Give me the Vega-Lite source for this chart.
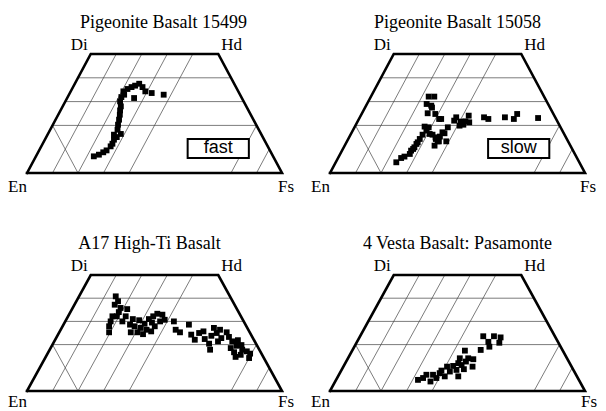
{
  "$schema": "https://vega.github.io/schema/vega-lite/v6.json",
  "background": "white",
  "padding": {"left": 8, "top": 14, "right": 2, "bottom": 0},
  "config": {
    "view": {"stroke": null},
    "title": {"font": "Liberation Serif", "fontSize": 18, "fontWeight": "normal", "color": "black", "frame": "group", "anchor": "middle", "offset": 0},
    "text": {"font": "Liberation Serif", "fontSize": 17, "color": "black"}
  },
  "datasets": {
    "grid": [
      {"x": 10, "y": 20, "x2": 90, "y2": 20},
      {"x": 15, "y": 30, "x2": 85, "y2": 30},
      {"x": 20, "y": 40, "x2": 80, "y2": 40},
      {"x": 10, "y": 0, "x2": 35, "y2": 50},
      {"x": 20, "y": 0, "x2": 45, "y2": 50},
      {"x": 30, "y": 0, "x2": 55, "y2": 50},
      {"x": 40, "y": 0, "x2": 65, "y2": 50},
      {"x": 80, "y": 0, "x2": 90, "y2": 20},
      {"x": 90, "y": 0, "x2": 95, "y2": 10},
      {"x": 10, "y": 20, "x2": 20, "y2": 0}
    ],
    "frame": [
      {"i": 0, "x": 0, "y": 0},
      {"i": 1, "x": 25, "y": 50},
      {"i": 2, "x": 75, "y": 50},
      {"i": 3, "x": 100, "y": 0},
      {"i": 4, "x": 0, "y": 0}
    ],
    "left": [{"label": "Di", "x": 25, "y": 50}],
    "right": [{"label": "Hd", "x": 75, "y": 50}],
    "en": [{"label": "En", "x": 0, "y": 0}],
    "fs": [{"label": "Fs", "x": 100, "y": 0}],
    "points": [
      {"panel": "A", "x": 26.2, "y": 7.0}, {"panel": "A", "x": 28.2, "y": 7.7}, {"panel": "A", "x": 29.9, "y": 8.7}, {"panel": "A", "x": 31.2, "y": 9.5},
      {"panel": "A", "x": 32.8, "y": 11.2}, {"panel": "A", "x": 33.5, "y": 12.3}, {"panel": "A", "x": 34.1, "y": 14.0}, {"panel": "A", "x": 35.2, "y": 15.1},
      {"panel": "A", "x": 36.8, "y": 16.4}, {"panel": "A", "x": 34.1, "y": 16.1}, {"panel": "A", "x": 35.5, "y": 18.2}, {"panel": "A", "x": 35.7, "y": 20.3},
      {"panel": "A", "x": 36.1, "y": 22.4}, {"panel": "A", "x": 36.4, "y": 24.5}, {"panel": "A", "x": 36.5, "y": 26.3}, {"panel": "A", "x": 36.8, "y": 28.0},
      {"panel": "A", "x": 36.5, "y": 30.1}, {"panel": "A", "x": 37.0, "y": 31.9}, {"panel": "A", "x": 37.8, "y": 34.3}, {"panel": "A", "x": 39.4, "y": 35.3},
      {"panel": "A", "x": 41.0, "y": 36.1}, {"panel": "A", "x": 42.4, "y": 36.7}, {"panel": "A", "x": 44.0, "y": 37.5}, {"panel": "A", "x": 45.3, "y": 36.1},
      {"panel": "A", "x": 46.4, "y": 34.3}, {"panel": "A", "x": 48.9, "y": 33.6}, {"panel": "A", "x": 42.0, "y": 31.5}, {"panel": "A", "x": 53.6, "y": 32.9},
      {"panel": "A", "x": 38.1, "y": 32.9},
      {"panel": "B", "x": 26.0, "y": 4.5}, {"panel": "B", "x": 27.9, "y": 6.3}, {"panel": "B", "x": 29.2, "y": 6.9}, {"panel": "B", "x": 31.3, "y": 8.0},
      {"panel": "B", "x": 31.8, "y": 9.4}, {"panel": "B", "x": 32.6, "y": 10.1}, {"panel": "B", "x": 33.1, "y": 10.8}, {"panel": "B", "x": 33.9, "y": 12.2},
      {"panel": "B", "x": 34.4, "y": 12.9}, {"panel": "B", "x": 35.2, "y": 14.3}, {"panel": "B", "x": 36.3, "y": 16.1}, {"panel": "B", "x": 37.8, "y": 17.8},
      {"panel": "B", "x": 38.7, "y": 19.2}, {"panel": "B", "x": 37.1, "y": 19.5}, {"panel": "B", "x": 39.1, "y": 16.4}, {"panel": "B", "x": 40.2, "y": 16.1},
      {"panel": "B", "x": 41.4, "y": 15.0}, {"panel": "B", "x": 41.5, "y": 14.3}, {"panel": "B", "x": 42.2, "y": 13.3}, {"panel": "B", "x": 41.0, "y": 11.5},
      {"panel": "B", "x": 42.7, "y": 13.3}, {"panel": "B", "x": 43.1, "y": 15.3}, {"panel": "B", "x": 45.6, "y": 13.3}, {"panel": "B", "x": 44.9, "y": 16.7},
      {"panel": "B", "x": 44.1, "y": 17.1}, {"panel": "B", "x": 46.2, "y": 19.2}, {"panel": "B", "x": 48.7, "y": 22.0}, {"panel": "B", "x": 49.5, "y": 23.4},
      {"panel": "B", "x": 50.8, "y": 19.9}, {"panel": "B", "x": 51.2, "y": 21.6}, {"panel": "B", "x": 52.3, "y": 20.3}, {"panel": "B", "x": 53.1, "y": 21.7},
      {"panel": "B", "x": 54.4, "y": 24.1}, {"panel": "B", "x": 54.6, "y": 21.3}, {"panel": "B", "x": 60.4, "y": 23.4}, {"panel": "B", "x": 62.1, "y": 22.7},
      {"panel": "B", "x": 68.6, "y": 23.4}, {"panel": "B", "x": 72.1, "y": 22.7}, {"panel": "B", "x": 73.4, "y": 24.8}, {"panel": "B", "x": 81.6, "y": 23.1},
      {"panel": "B", "x": 38.7, "y": 32.1}, {"panel": "B", "x": 40.9, "y": 32.1}, {"panel": "B", "x": 37.9, "y": 29.0}, {"panel": "B", "x": 39.7, "y": 28.3},
      {"panel": "B", "x": 40.0, "y": 27.5}, {"panel": "B", "x": 38.3, "y": 25.1}, {"panel": "B", "x": 41.3, "y": 24.8}, {"panel": "B", "x": 42.8, "y": 22.7},
      {"panel": "B", "x": 43.6, "y": 22.7},
      {"panel": "C", "x": 34.8, "y": 40.8}, {"panel": "C", "x": 35.7, "y": 38.7}, {"panel": "C", "x": 34.4, "y": 37.2}, {"panel": "C", "x": 36.7, "y": 35.8},
      {"panel": "C", "x": 39.3, "y": 35.3}, {"panel": "C", "x": 33.5, "y": 32.2}, {"panel": "C", "x": 35.2, "y": 32.2}, {"panel": "C", "x": 38.7, "y": 32.2},
      {"panel": "C", "x": 32.8, "y": 30.0}, {"panel": "C", "x": 32.2, "y": 27.9}, {"panel": "C", "x": 32.2, "y": 25.3}, {"panel": "C", "x": 37.4, "y": 30.0},
      {"panel": "C", "x": 40.4, "y": 28.6}, {"panel": "C", "x": 42.2, "y": 27.9}, {"panel": "C", "x": 40.7, "y": 25.3}, {"panel": "C", "x": 43.3, "y": 25.3},
      {"panel": "C", "x": 44.6, "y": 27.2}, {"panel": "C", "x": 46.1, "y": 29.0}, {"panel": "C", "x": 47.8, "y": 31.0}, {"panel": "C", "x": 49.5, "y": 32.2},
      {"panel": "C", "x": 51.1, "y": 33.3}, {"panel": "C", "x": 53.1, "y": 32.9}, {"panel": "C", "x": 52.2, "y": 30.0}, {"panel": "C", "x": 54.0, "y": 30.7},
      {"panel": "C", "x": 50.1, "y": 27.9}, {"panel": "C", "x": 48.7, "y": 25.7}, {"panel": "C", "x": 46.9, "y": 26.4}, {"panel": "C", "x": 57.6, "y": 30.0},
      {"panel": "C", "x": 58.3, "y": 26.4}, {"panel": "C", "x": 60.0, "y": 25.3}, {"panel": "C", "x": 63.5, "y": 28.6}, {"panel": "C", "x": 64.4, "y": 24.3},
      {"panel": "C", "x": 65.8, "y": 22.1}, {"panel": "C", "x": 67.5, "y": 25.0}, {"panel": "C", "x": 69.2, "y": 25.7}, {"panel": "C", "x": 69.7, "y": 22.4},
      {"panel": "C", "x": 71.4, "y": 20.4}, {"panel": "C", "x": 71.8, "y": 17.8}, {"panel": "C", "x": 72.3, "y": 23.8}, {"panel": "C", "x": 73.3, "y": 27.2},
      {"panel": "C", "x": 74.4, "y": 25.0}, {"panel": "C", "x": 75.7, "y": 26.4}, {"panel": "C", "x": 74.9, "y": 21.4}, {"panel": "C", "x": 76.2, "y": 22.8},
      {"panel": "C", "x": 78.3, "y": 25.3}, {"panel": "C", "x": 79.2, "y": 23.3}, {"panel": "C", "x": 80.5, "y": 21.4}, {"panel": "C", "x": 79.9, "y": 18.5},
      {"panel": "C", "x": 81.2, "y": 16.7}, {"panel": "C", "x": 82.2, "y": 19.5}, {"panel": "C", "x": 82.7, "y": 21.9}, {"panel": "C", "x": 84.1, "y": 19.8},
      {"panel": "C", "x": 84.4, "y": 17.8}, {"panel": "C", "x": 86.2, "y": 17.1}, {"panel": "C", "x": 87.5, "y": 16.1}, {"panel": "C", "x": 87.1, "y": 14.2},
      {"panel": "C", "x": 83.8, "y": 15.6}, {"panel": "C", "x": 81.8, "y": 14.7}, {"panel": "C", "x": 36.0, "y": 34.0}, {"panel": "C", "x": 41.5, "y": 31.0},
      {"panel": "C", "x": 44.0, "y": 30.5}, {"panel": "C", "x": 49.0, "y": 29.5}, {"panel": "C", "x": 45.5, "y": 24.5},
      {"panel": "D", "x": 34.5, "y": 4.8}, {"panel": "D", "x": 36.5, "y": 5.6}, {"panel": "D", "x": 37.8, "y": 7.0}, {"panel": "D", "x": 39.4, "y": 4.1},
      {"panel": "D", "x": 40.4, "y": 7.0}, {"panel": "D", "x": 41.7, "y": 5.6}, {"panel": "D", "x": 43.0, "y": 7.7}, {"panel": "D", "x": 43.7, "y": 8.8},
      {"panel": "D", "x": 45.0, "y": 6.3}, {"panel": "D", "x": 45.9, "y": 10.5}, {"panel": "D", "x": 47.0, "y": 8.4}, {"panel": "D", "x": 48.3, "y": 10.8},
      {"panel": "D", "x": 49.6, "y": 9.1}, {"panel": "D", "x": 50.3, "y": 12.0}, {"panel": "D", "x": 50.3, "y": 6.3}, {"panel": "D", "x": 50.9, "y": 14.1},
      {"panel": "D", "x": 51.6, "y": 11.2}, {"panel": "D", "x": 52.9, "y": 17.4}, {"panel": "D", "x": 53.3, "y": 12.7}, {"panel": "D", "x": 52.5, "y": 9.4},
      {"panel": "D", "x": 54.2, "y": 14.1}, {"panel": "D", "x": 55.9, "y": 10.5}, {"panel": "D", "x": 56.2, "y": 13.7}, {"panel": "D", "x": 59.1, "y": 17.7},
      {"panel": "D", "x": 60.1, "y": 23.6}, {"panel": "D", "x": 62.1, "y": 21.2}, {"panel": "D", "x": 62.5, "y": 19.1}, {"panel": "D", "x": 64.3, "y": 23.6},
      {"panel": "D", "x": 66.9, "y": 23.1}, {"panel": "D", "x": 66.4, "y": 20.8}
    ],
    "box": [{"label": "fast", "x": 63, "y": 14.3, "x2": 87, "y2": 6.3, "cx": 75, "cy": 10.3}],
    "box2": [{"label": "slow", "x": 62, "y": 14.3, "x2": 86, "y2": 6.3, "cx": 74, "cy": 10.3}]
  },
  "columns": 2,
  "bounds": "flush",
  "spacing": {"column": 48, "row": 102},
  "concat": [
    {
      "width": 255, "height": 119,
      "title": {"text": "Pigeonite Basalt 15499", "dx": 9},
      "encoding": {
        "x": {"field": "x", "type": "quantitative", "scale": {"domain": [0, 100], "nice": false, "zero": false}, "axis": null},
        "y": {"field": "y", "type": "quantitative", "scale": {"domain": [0, 50], "nice": false, "zero": false}, "axis": null}
      },
      "layer": [
        {"data": {"name": "grid"}, "mark": {"type": "rule", "stroke": "#444", "strokeWidth": 0.7}, "encoding": {"x2": {"field": "x2"}, "y2": {"field": "y2"}}},
        {"data": {"name": "box"}, "mark": {"type": "rect", "fill": "white", "stroke": "black", "strokeWidth": 2}, "encoding": {"x2": {"field": "x2"}, "y2": {"field": "y2"}}},
        {"data": {"name": "box"}, "mark": {"type": "text", "font": "Liberation Sans", "fontSize": 18, "align": "center", "baseline": "middle"}, "encoding": {"x": {"field": "cx", "type": "quantitative"}, "y": {"field": "cy", "type": "quantitative"}, "text": {"field": "label"}}},
        {"data": {"name": "frame"}, "mark": {"type": "line", "stroke": "black", "strokeWidth": 2.6, "strokeJoin": "miter", "strokeCap": "square"}, "encoding": {"order": {"field": "i", "type": "quantitative"}}},
        {"data": {"name": "points"}, "transform": [{"filter": "datum.panel === 'A'"}], "mark": {"type": "square", "size": 34, "color": "black", "opacity": 1}},
        {"data": {"name": "left"}, "mark": {"type": "text", "font": "Liberation Serif", "fontSize": 17, "align": "right", "baseline": "alphabetic", "dx": -3, "dy": -4}, "encoding": {"text": {"field": "label"}}},
        {"data": {"name": "right"}, "mark": {"type": "text", "font": "Liberation Serif", "fontSize": 17, "align": "left", "baseline": "alphabetic", "dx": 3, "dy": -4}, "encoding": {"text": {"field": "label"}}},
        {"data": {"name": "en"}, "mark": {"type": "text", "font": "Liberation Serif", "fontSize": 17, "align": "right", "baseline": "alphabetic", "dx": 0, "dy": 19}, "encoding": {"text": {"field": "label"}}},
        {"data": {"name": "fs"}, "mark": {"type": "text", "font": "Liberation Serif", "fontSize": 17, "align": "left", "baseline": "alphabetic", "dx": -4, "dy": 19}, "encoding": {"text": {"field": "label"}}}
      ]
    },
    {
      "width": 255, "height": 119,
      "title": {"text": "Pigeonite Basalt 15058"},
      "encoding": {
        "x": {"field": "x", "type": "quantitative", "scale": {"domain": [0, 100], "nice": false, "zero": false}, "axis": null},
        "y": {"field": "y", "type": "quantitative", "scale": {"domain": [0, 50], "nice": false, "zero": false}, "axis": null}
      },
      "layer": [
        {"data": {"name": "grid"}, "mark": {"type": "rule", "stroke": "#444", "strokeWidth": 0.7}, "encoding": {"x2": {"field": "x2"}, "y2": {"field": "y2"}}},
        {"data": {"name": "box2"}, "mark": {"type": "rect", "fill": "white", "stroke": "black", "strokeWidth": 2}, "encoding": {"x2": {"field": "x2"}, "y2": {"field": "y2"}}},
        {"data": {"name": "box2"}, "mark": {"type": "text", "font": "Liberation Sans", "fontSize": 18, "align": "center", "baseline": "middle"}, "encoding": {"x": {"field": "cx", "type": "quantitative"}, "y": {"field": "cy", "type": "quantitative"}, "text": {"field": "label"}}},
        {"data": {"name": "frame"}, "mark": {"type": "line", "stroke": "black", "strokeWidth": 2.6, "strokeJoin": "miter", "strokeCap": "square"}, "encoding": {"order": {"field": "i", "type": "quantitative"}}},
        {"data": {"name": "points"}, "transform": [{"filter": "datum.panel === 'B'"}], "mark": {"type": "square", "size": 34, "color": "black", "opacity": 1}},
        {"data": {"name": "left"}, "mark": {"type": "text", "font": "Liberation Serif", "fontSize": 17, "align": "right", "baseline": "alphabetic", "dx": -3, "dy": -4}, "encoding": {"text": {"field": "label"}}},
        {"data": {"name": "right"}, "mark": {"type": "text", "font": "Liberation Serif", "fontSize": 17, "align": "left", "baseline": "alphabetic", "dx": 3, "dy": -4}, "encoding": {"text": {"field": "label"}}},
        {"data": {"name": "en"}, "mark": {"type": "text", "font": "Liberation Serif", "fontSize": 17, "align": "right", "baseline": "alphabetic", "dx": 0, "dy": 19}, "encoding": {"text": {"field": "label"}}},
        {"data": {"name": "fs"}, "mark": {"type": "text", "font": "Liberation Serif", "fontSize": 17, "align": "left", "baseline": "alphabetic", "dx": -5, "dy": 19}, "encoding": {"text": {"field": "label"}}}
      ]
    },
    {
      "width": 255, "height": 116,
      "title": {"text": "A17 High-Ti Basalt", "dx": -5},
      "encoding": {
        "x": {"field": "x", "type": "quantitative", "scale": {"domain": [0, 100], "nice": false, "zero": false}, "axis": null},
        "y": {"field": "y", "type": "quantitative", "scale": {"domain": [0, 50], "nice": false, "zero": false}, "axis": null}
      },
      "layer": [
        {"data": {"name": "grid"}, "mark": {"type": "rule", "stroke": "#444", "strokeWidth": 0.7}, "encoding": {"x2": {"field": "x2"}, "y2": {"field": "y2"}}},
        {"data": {"name": "frame"}, "mark": {"type": "line", "stroke": "black", "strokeWidth": 2.6, "strokeJoin": "miter", "strokeCap": "square"}, "encoding": {"order": {"field": "i", "type": "quantitative"}}},
        {"data": {"name": "points"}, "transform": [{"filter": "datum.panel === 'C'"}], "mark": {"type": "square", "size": 34, "color": "black", "opacity": 1}},
        {"data": {"name": "left"}, "mark": {"type": "text", "font": "Liberation Serif", "fontSize": 17, "align": "right", "baseline": "alphabetic", "dx": -3, "dy": -4}, "encoding": {"text": {"field": "label"}}},
        {"data": {"name": "right"}, "mark": {"type": "text", "font": "Liberation Serif", "fontSize": 17, "align": "left", "baseline": "alphabetic", "dx": 3, "dy": -4}, "encoding": {"text": {"field": "label"}}},
        {"data": {"name": "en"}, "mark": {"type": "text", "font": "Liberation Serif", "fontSize": 17, "align": "right", "baseline": "alphabetic", "dx": 0, "dy": 16}, "encoding": {"text": {"field": "label"}}},
        {"data": {"name": "fs"}, "mark": {"type": "text", "font": "Liberation Serif", "fontSize": 17, "align": "left", "baseline": "alphabetic", "dx": -4, "dy": 16}, "encoding": {"text": {"field": "label"}}}
      ]
    },
    {
      "width": 255, "height": 116,
      "title": {"text": "4 Vesta Basalt: Pasamonte"},
      "encoding": {
        "x": {"field": "x", "type": "quantitative", "scale": {"domain": [0, 100], "nice": false, "zero": false}, "axis": null},
        "y": {"field": "y", "type": "quantitative", "scale": {"domain": [0, 50], "nice": false, "zero": false}, "axis": null}
      },
      "layer": [
        {"data": {"name": "grid"}, "mark": {"type": "rule", "stroke": "#444", "strokeWidth": 0.7}, "encoding": {"x2": {"field": "x2"}, "y2": {"field": "y2"}}},
        {"data": {"name": "frame"}, "mark": {"type": "line", "stroke": "black", "strokeWidth": 2.6, "strokeJoin": "miter", "strokeCap": "square"}, "encoding": {"order": {"field": "i", "type": "quantitative"}}},
        {"data": {"name": "points"}, "transform": [{"filter": "datum.panel === 'D'"}], "mark": {"type": "square", "size": 34, "color": "black", "opacity": 1}},
        {"data": {"name": "left"}, "mark": {"type": "text", "font": "Liberation Serif", "fontSize": 17, "align": "right", "baseline": "alphabetic", "dx": -3, "dy": -4}, "encoding": {"text": {"field": "label"}}},
        {"data": {"name": "right"}, "mark": {"type": "text", "font": "Liberation Serif", "fontSize": 17, "align": "left", "baseline": "alphabetic", "dx": 3, "dy": -4}, "encoding": {"text": {"field": "label"}}},
        {"data": {"name": "en"}, "mark": {"type": "text", "font": "Liberation Serif", "fontSize": 17, "align": "right", "baseline": "alphabetic", "dx": 0, "dy": 16}, "encoding": {"text": {"field": "label"}}},
        {"data": {"name": "fs"}, "mark": {"type": "text", "font": "Liberation Serif", "fontSize": 17, "align": "left", "baseline": "alphabetic", "dx": -4, "dy": 16}, "encoding": {"text": {"field": "label"}}}
      ]
    }
  ]
}
